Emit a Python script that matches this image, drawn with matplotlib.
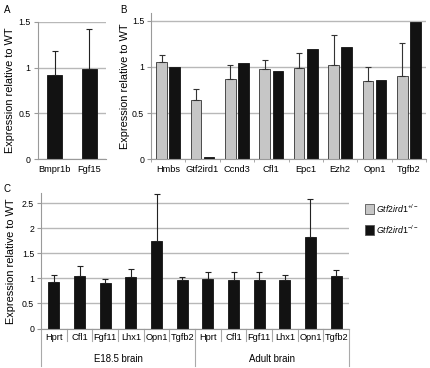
import matplotlib
matplotlib.use("Agg")
import matplotlib.pyplot as plt
import numpy as np
from matplotlib.patches import Rectangle
import matplotlib.transforms as mtrans

plt.rcParams['font.family'] = ['Liberation Sans', 'DejaVu Sans']
plt.rcParams['mathtext.fontset'] = 'custom'
plt.rcParams['mathtext.rm'] = 'Liberation Sans'
plt.rcParams['mathtext.it'] = 'Liberation Sans:italic'

# ---- data ----
a_genes = ["Bmpr1b", "Fgf15"]
a_vals = [0.915, 0.98]
a_err = [0.265, 0.44]

b_genes = ["Hmbs", "Gtf2ird1", "Ccnd3", "Cfl1", "Epc1", "Ezh2", "Opn1", "Tgfb2"]
b_het = [1.055, 0.64, 0.866, 0.975, 0.99, 1.02, 0.85, 0.906]
b_het_err = [0.075, 0.12, 0.154, 0.095, 0.165, 0.32, 0.154, 0.35]
b_ko = [1.0, 0.02, 1.04, 0.957, 1.19, 1.217, 0.86, 1.484]

c_genes = ["Hprt", "Cfl1", "Fgf11", "Lhx1", "Opn1", "Tgfb2",
           "Hprt", "Cfl1", "Fgf11", "Lhx1", "Opn1", "Tgfb2"]
c_groups = ["E18.5 brain", "Adult brain"]
c_vals = [0.92, 1.053, 0.90, 1.033, 1.747, 0.967,
          0.993, 0.973, 0.96, 0.96, 1.827, 1.04]
c_err = [0.153, 0.187, 0.08, 0.16, 0.94, 0.066,
         0.127, 0.16, 0.16, 0.113, 0.76, 0.12]

legend_labels = [r"$\mathit{Gtf2ird1}^{+/-}$", r"$\mathit{Gtf2ird1}^{-/-}$"]

GRAY = "#c6c6c6"
BLACK = "#121212"
GRID = "#b8b8b8"
AXC = "#9a9a9a"
FS = 6.7
YFS = 6.3

W, H = 430, 368
fig = plt.figure(figsize=(W / 100, H / 100), dpi=100)


def add_ax(l, r, t, b):
    return fig.add_axes([l / W, 1 - b / H, (r - l) / W, (b - t) / H])


def style(ax, ymax, yticks, yticklabels, label_x_px, left_px, width_px):
    ax.set_ylim(0, ymax)
    ax.set_yticks(yticks)
    ax.set_yticklabels(yticklabels, fontsize=YFS)
    for s in ["top", "right"]:
        ax.spines[s].set_visible(False)
    for s in ["left", "bottom"]:
        ax.spines[s].set_color(AXC)
        ax.spines[s].set_linewidth(0.8)
    ax.yaxis.grid(True, color=GRID, linewidth=1.0)
    ax.set_axisbelow(True)
    ax.tick_params(axis='y', length=3, color=AXC, pad=2)
    ax.set_ylabel("Expression relative to WT", fontsize=7.9)
    ax.yaxis.set_label_coords((label_x_px - left_px) / width_px, 0.5)


# ---- Panel A ----
axA = add_ax(37.7, 106.3, 21.7, 159.3)
xa = np.arange(len(a_genes))
axA.bar(xa, a_vals, width=0.44, color=BLACK, edgecolor=BLACK, linewidth=0.6,
        yerr=[np.zeros(len(a_vals)), a_err], error_kw=dict(ecolor="#222222", elinewidth=0.8, capsize=2.5, capthick=0.8))
axA.set_xlim(-0.5, len(a_genes) - 0.5)
style(axA, 1.5, [0, 0.5, 1, 1.5], ["0", "0.5", "1", "1.5"], 15, 37.7, 68.6)
axA.set_xticks(xa)
axA.set_xticklabels(a_genes, fontsize=FS)
axA.tick_params(axis='x', length=0, pad=4)

# ---- Panel B ----
axB = add_ax(151, 426, 13.3, 159.3)
xb = np.arange(len(b_genes))
bw = 0.31
off = 0.19
axB.bar(xb - off, b_het, width=bw, color=GRAY, edgecolor="#333333", linewidth=0.6,
        yerr=[np.zeros(len(b_het)), b_het_err],
        error_kw=dict(ecolor="#333333", elinewidth=0.8, capsize=2.5, capthick=0.8))
axB.bar(xb + off, b_ko, width=bw, color=BLACK, edgecolor=BLACK, linewidth=0.6)
axB.set_xlim(-0.5, len(b_genes) - 0.5)
style(axB, 1.58, [0, 0.5, 1, 1.5], ["0", "0.5", "1", "1.5"], 130, 151, 275)
axB.set_xticks(xb)
axB.set_xticklabels(b_genes, fontsize=FS)
axB.tick_params(axis='x', length=0, pad=4)
axB.set_xticks(np.arange(len(b_genes) + 1) - 0.5, minor=True)
axB.tick_params(axis='x', which='minor', length=2.5, color=AXC)

# ---- Panel C ----
axC = add_ax(41, 349, 193, 328.5)
xc = np.arange(len(c_genes))
axC.bar(xc, c_vals, width=0.43, color=BLACK, edgecolor=BLACK, linewidth=0.6,
        yerr=[np.zeros(len(c_vals)), c_err],
        error_kw=dict(ecolor="#222222", elinewidth=0.8, capsize=2.5, capthick=0.8))
axC.set_xlim(-0.5, len(c_genes) - 0.5)
style(axC, 2.7, [0, 0.5, 1, 1.5, 2, 2.5], ["0", "0.5", "1", "1.5", "2", "2.5"], 16, 41, 308)
axC.set_xticks(xc)
axC.set_xticklabels(c_genes, fontsize=FS)
axC.tick_params(axis='x', length=0, pad=3)

trans = mtrans.blended_transform_factory(axC.transData, axC.transAxes)
hC = 328.5 - 193
n_per = len(c_genes) // len(c_groups)
for i in range(len(c_genes) + 1):
    xpos = i - 0.5
    if i % n_per == 0:
        depth = (366 - 328.5) / hC
    else:
        depth = (341 - 328.5) / hC
    axC.plot([xpos, xpos], [0, -depth], transform=trans, color="#aaaaaa",
             linewidth=0.8, clip_on=False)
for g, name in enumerate(c_groups):
    cx = g * n_per + (n_per - 1) / 2
    axC.text(cx, -(359 - 328.5) / hC, name, transform=trans, fontsize=6.9,
             ha="center", va="center")

# ---- Legend ----
for k, (col, lab) in enumerate(zip([GRAY, BLACK], legend_labels)):
    y = 204 + k * 21
    fig.patches.append(Rectangle((365 / W, 1 - (y + 10) / H), 9 / W, 10 / H,
                                 transform=fig.transFigure, facecolor=col,
                                 edgecolor="#555555", linewidth=0.6))
    fig.text(376 / W, 1 - (y + 5) / H, lab, fontsize=6.3, ha="left", va="center")

# ---- Panel letters ----
fig.text(4 / W, 1 - 10 / H, "A", fontsize=7, ha="left", va="center")
fig.text(120 / W, 1 - 10 / H, "B", fontsize=7, ha="left", va="center")
fig.text(4 / W, 1 - 189 / H, "C", fontsize=7, ha="left", va="center")

fig.savefig("out.png", dpi=100)
